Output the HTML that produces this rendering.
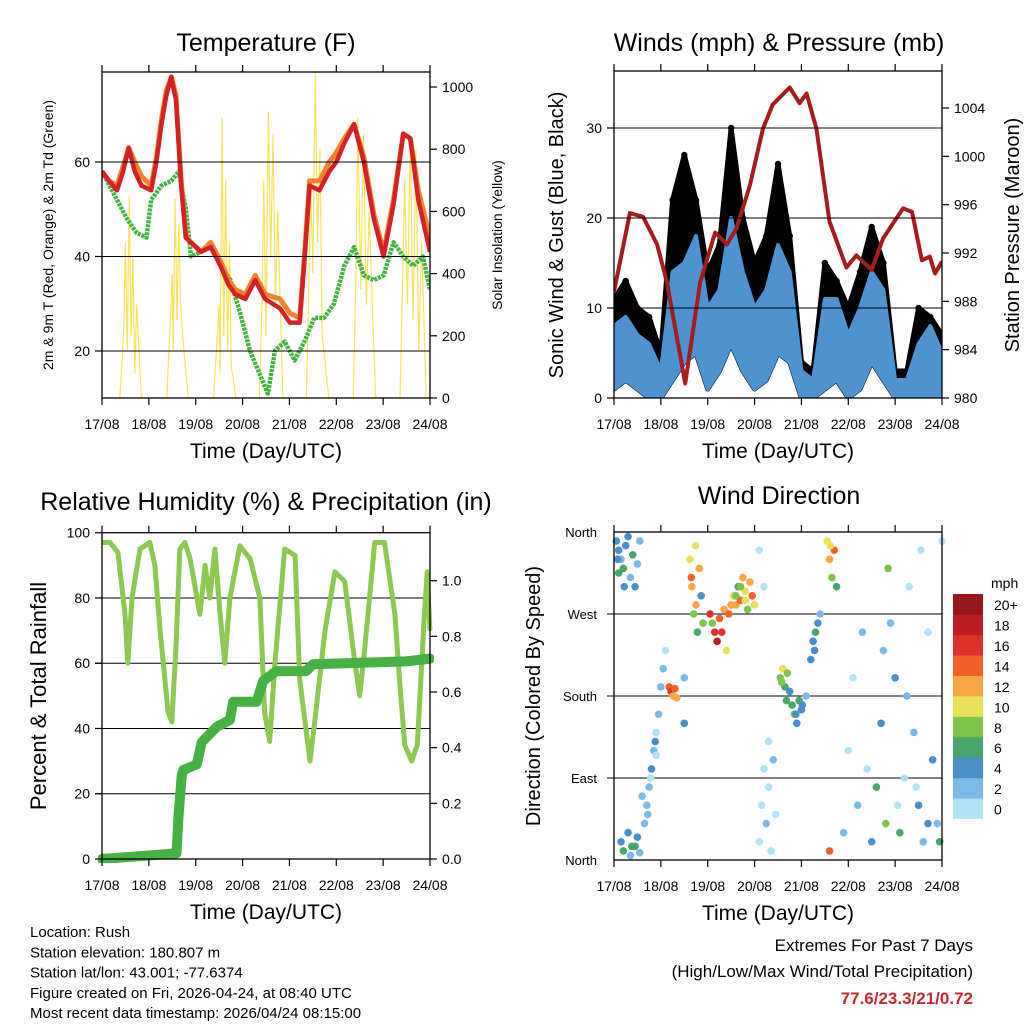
<!DOCTYPE html>
<html><head><meta charset="utf-8"><style>
html,body{margin:0;padding:0;background:#fff;}
svg{display:block;font-family:"Liberation Sans",sans-serif;}
</style></head><body>
<svg id="c" width="1024" height="1024" viewBox="0 0 1024 1024"></svg>
<script>
// ---------- DATA ----------
const dayLabels = ["17/08","18/08","19/08","20/08","21/08","22/08","23/08","24/08"];
// Temperature panel
const tempT = [0,0.15,0.32,0.45,0.57,0.7,0.84,1.05,1.16,1.27,1.37,1.48,1.58,1.69,1.79,2.11,2.32,2.53,2.7,2.85,3.06,3.27,3.48,3.8,4.01,4.22,4.32,4.43,4.64,4.85,5.0,5.17,5.38,5.59,5.8,6.01,6.22,6.43,6.58,6.75,7];
const tempRed = [58,56,54,58,63,58,55,54,60,68,74,78,73,55,44,41,42,38,34,32,31,35,31,29,26,26,39,55,54,58,60,64,68,60,48,40,51,66,65,52,41];
const tempOrange = [58,56,55,59,63,60,57,55,61,69,75,78,74,56,44,41,43,39,35,33,32,36,32,31,28,27,40,56,56,60,62,65,68,61,49,41,52,66,65,54,44];
const dewT = [0,0.32,0.53,0.74,0.95,1.05,1.27,1.48,1.64,1.79,1.9,2.11,2.32,2.53,2.74,2.95,3.16,3.37,3.54,3.69,3.9,4.11,4.32,4.53,4.74,4.95,5.17,5.38,5.59,5.8,6.01,6.22,6.43,6.64,6.85,7];
const dewG = [58,52,48,45,44,52,55,56,58,50,40,41,42,38,35,28,20,15,11,20,22,18,22,27,27,30,38,42,36,35,36,43,40,38,40,33];
const solarT = [0,0.38,0.44,0.47,0.5,0.54,0.58,0.62,0.66,0.7,0.74,0.84,1.38,1.46,1.5,1.52,1.56,1.6,1.64,1.68,1.72,1.84,2.38,2.46,2.5,2.52,2.56,2.6,2.64,2.68,2.72,2.76,2.86,3.36,3.42,3.45,3.5,3.55,3.6,3.65,3.7,3.75,3.86,4.36,4.42,4.45,4.5,4.55,4.6,4.65,4.7,4.84,5.36,5.42,5.46,5.52,5.58,5.64,5.7,5.84,6.36,6.42,6.46,6.52,6.58,6.64,6.7,6.76,6.82,6.92,7];
const solarV = [0,0,150,250,500,150,650,200,450,80,300,0,0,250,400,150,640,250,560,300,200,0,0,200,300,80,900,200,700,150,500,100,0,0,350,700,200,920,450,850,300,600,0,0,400,700,400,1050,500,800,200,0,0,400,900,350,850,300,600,0,0,400,700,300,840,250,800,150,500,0,0];
// Winds panel (6-hourly)
const windT6 = [0,0.25,0.5,0.75,1,1.25,1.5,1.75,2,2.25,2.5,2.75,3,3.25,3.5,3.75,4,4.25,4.5,4.75,5,5.25,5.5,5.75,6,6.25,6.5,6.75,7];
const sonicHigh = [8,9,7,6,3,14,15,18,10,12,20,14,10,12,17,14,3,2,11,11,7,10,14,12,2,2,6,8,5];
const sonicLow = [1,2,1,0,0,2,4,5,1,3,6,3,1,2,5,4,0,0,1,2,0,1,4,2,0,0,0,0,0];
const gust = [11,13,10,9,5,22,27,22,14,17,30,20,15,18,26,18,4,3,15,13,10,14,19,15,3,3,10,9,7];
const presT = [0,0.34,0.62,0.92,1.13,1.52,1.84,2.16,2.41,2.62,2.9,3.18,3.39,3.75,3.96,4.11,4.32,4.6,4.96,5.17,5.5,5.74,6.17,6.36,6.57,6.74,6.85,7];
const pres = [988.8,995.3,995,992.7,989.6,981.2,989.6,993.7,992.7,994.1,997.6,1002.3,1004.3,1005.7,1004.4,1005.2,1002.3,994.6,990.8,991.8,990.6,993.2,995.7,995.4,991.4,991.7,990.3,991.3];
// RH panel
const rhT = [0,0.17,0.34,0.49,0.55,0.64,0.81,1.02,1.13,1.24,1.41,1.49,1.58,1.66,1.77,1.88,2.09,2.2,2.3,2.41,2.52,2.62,2.73,2.94,3.16,3.37,3.47,3.58,3.69,3.9,4.12,4.22,4.44,4.54,4.76,4.97,5.18,5.4,5.5,5.61,5.82,6.03,6.25,6.35,6.46,6.61,6.73,6.88,6.94,7];
const rhV = [97,97,94,75,60,80,95,97,90,70,45,42,65,95,97,92,75,90,80,95,75,60,80,96,92,80,45,36,60,95,93,55,30,42,70,88,85,60,50,65,97,97,75,55,35,30,35,75,88,70];
const rainT = [0,1.59,1.63,1.7,1.74,2.02,2.13,2.45,2.73,2.8,3.3,3.44,3.72,4.36,4.5,6.49,7];
const rainV = [0,0.02,0.15,0.3,0.32,0.34,0.42,0.475,0.5,0.565,0.565,0.64,0.675,0.675,0.7,0.71,0.72];
// Wind direction panel
const dirT = [0.05,0.1,0.15,0.2,0.25,0.3,0.35,0.4,0.45,0.5,0.55,0.1,0.15,0.2,0.3,0.35,0.45,0.5,0.55,0.65,0.7,0.75,0.8,0.85,0.9,0.95,1.0,1.05,1.1,0.78,0.9,1.18,1.22,1.26,1.3,1.34,1.62,1.66,1.7,1.74,1.78,1.82,1.86,1.9,1.5,1.5,2.1,2.15,2.2,2.25,2.3,2.35,2.4,2.45,2.5,2.55,2.6,2.65,2.7,2.75,2.8,2.85,2.9,2.95,3.0,3.1,3.15,3.2,3.25,3.3,3.35,3.4,3.45,3.1,3.2,3.3,3.55,3.6,3.65,3.7,3.75,3.8,3.85,3.9,3.95,4.0,4.1,4.2,4.25,4.3,4.35,4.4,4.55,4.6,4.65,4.7,4.75,4.6,4.9,5.0,5.1,5.2,5.3,5.4,5.5,5.6,5.7,5.8,5.9,6.0,6.1,6.2,6.3,6.4,6.5,6.6,6.7,6.8,6.9,7.0,5.75,6.25,6.55,0.08,0.22,0.38,0.6,0.72,0.88,1.65,1.75,2.05,2.6,2.7,2.8,3.58,3.68,3.88,4.02,4.28,4.62,5.85,6.05,6.45,6.7,6.95];
const dirD = [350,340,330,320,345,355,310,335,300,325,350,315,20,10,30,5,15,25,8,40,60,80,100,120,140,160,190,210,230,90,115,190,185,180,188,178,330,300,270,345,250,320,290,260,200,150,260,250,240,265,250,275,230,270,280,290,280,300,285,310,295,275,305,290,280,20,60,100,40,80,10,110,50,340,300,130,200,210,190,205,185,170,160,150,175,165,180,220,240,250,260,270,350,330,310,340,300,10,30,120,200,60,250,100,20,80,150,40,260,200,30,90,300,140,60,20,250,110,40,350,230,180,340,330,300,15,70,50,130,310,280,270,290,300,285,195,175,160,170,230,345,320,60,80,40,20];
const dirS = [4,5,3,6,4,5,3,6,4,2,3,6,4,6,5,3,6,4,2,2,3,2,4,3,1,2,3,2,1,1,0,14,16,12,15,12,10,12,8,10,6,12,4,8,3,4,8,16,18,14,16,12,10,14,12,10,12,6,14,12,10,8,12,14,10,0,1,0,2,1,0,2,1,1,0,0,8,10,6,9,4,6,8,4,6,5,3,4,5,6,4,3,10,12,8,14,6,15,2,0,1,3,2,1,4,6,4,8,2,4,6,1,0,3,5,2,1,4,3,1,2,2,0,5,4,6,3,2,4,14,12,16,8,9,10,8,6,4,5,4,10,8,0,1,4,6];
const scaleLabels = ["0","2","4","6","8","10","12","14","16","18","20+"];
const scaleColors = ["#b3e2f7","#7db9e6","#4a8fc7","#48a56e","#7fc34b","#e8e05a","#f7a845","#f06128","#dc3229","#bc1c24","#96161b"];

// ---------- HELPERS ----------
const svg = document.getElementById('c');
const NS = 'http://www.w3.org/2000/svg';
function mk(tag, attrs, parent, txt){
  const e = document.createElementNS(NS, tag);
  for (const k in attrs) e.setAttribute(k, attrs[k]);
  if (txt !== undefined) e.textContent = txt;
  (parent || svg).appendChild(e);
  return e;
}
function lin(d0,d1,r0,r1){ return v => r0 + (v-d0)*(r1-r0)/(d1-d0); }
function pathOf(xs, ys, fx, fy){
  return xs.map((t,i)=>(i?'L':'M')+fx(t).toFixed(1)+','+fy(ys[i]).toFixed(1)).join('');
}
function colorFor(s){ let i = Math.floor(s/2); if(i>10)i=10; if(i<0)i=0; return scaleColors[i]; }

function frame(g, L, R, T, B, fx){
  const f = mk('rect',{x:L,y:T,width:R-L,height:B-T,fill:'none',stroke:'#000','stroke-width':1.3},g);
  
  
  for (let d=0; d<=7; d++){
    const x = fx(d);
    const tb = mk('line',{x1:x,y1:B,x2:x,y2:B+7,stroke:'#000','stroke-width':1.2},g);
    
    
    mk('line',{x1:x,y1:T,x2:x,y2:T-7,stroke:'#000','stroke-width':1.2},g);
    const lb = mk('text',{x:x,y:B+31,'font-size':14,'text-anchor':'middle'},g,dayLabels[d]);
    
    
  }
  const xt = mk('text',{x:(L+R)/2,y:B+60,'font-size':21,'text-anchor':'middle'},g,'Time (Day/UTC)');
  
  
}
function hgrid(g, L, R, ys){
  ys.forEach(y=>{ mk('line',{x1:L-7,y1:y,x2:R,y2:y,stroke:'#000','stroke-width':1},g); });
}
function yTicks(g, x, vals, fy, side, fmt, name){
  vals.forEach(v=>{
    const y = fy(v);
    const dx = side==='left' ? -7 : 7;
    mk('line',{x1:x,y1:y,x2:x+dx,y2:y,stroke:'#000','stroke-width':1.2},g);
    const t = mk('text',{x: side==='left'? x-12 : x+12, y:y+5,'font-size':14,'text-anchor': side==='left'?'end':'start'},g,fmt(v));
    
    
  });
}
function vTitle(g, x, y, size, txt, name){
  const t = mk('text',{x:x,y:y,'font-size':size,'text-anchor':'middle',transform:`rotate(-90 ${x} ${y})`},g,txt);
  
  
}
function title(g, x, y, txt, name){
  const t = mk('text',{x:x,y:y,'font-size':25,'text-anchor':'middle'},g,txt);
  
  
}

// ---------- PANEL 1: TEMPERATURE ----------
(function(){
  const g = mk('g',{});
  
  
  const L=102,R=430,T=72,B=398;
  const fx = lin(0,7,L,R), fy = lin(20,60,351,162), fs = lin(0,1000,398,87);
  title(g,266,51,'Temperature (F)','temperature-title');
  const clip = mk('clipPath',{id:'cp1'},g); mk('rect',{x:L,y:T,width:R-L,height:B-T},clip);
  const d = mk('g',{'clip-path':'url(#cp1)'},g);
  const sol = mk('path',{d:pathOf(solarT,solarV,fx,fs),fill:'none',stroke:'#f9e35a','stroke-width':1.2},d);
  
  
  hgrid(g,L,R,[fy(20),fy(40),fy(60)]);
  const dew = mk('path',{d:pathOf(dewT,dewG,fx,fy),fill:'none',stroke:'#45b342','stroke-width':4.5,'stroke-dasharray':'3 1','stroke-linejoin':'round'},d);
  
  
  const or = mk('path',{d:pathOf(tempT,tempOrange,fx,fy),fill:'none',stroke:'#f5822a','stroke-width':5,'stroke-linejoin':'round'},d);
  
  
  const rd = mk('path',{d:pathOf(tempT,tempRed,fx,fy),fill:'none',stroke:'#d42128','stroke-width':4.5,'stroke-linejoin':'round'},d);
  
  
  frame(g,L,R,T,B,fx);
  yTicks(g,L,[20,40,60],fy,'left',v=>v,'y-tick-label');
  yTicks(g,R,[0,200,400,600,800,1000],fs,'right',v=>v,'y2-tick-label');
  vTitle(g,53,235,14,'2m & 9m T (Red, Orange) & 2m Td (Green)','y-axis-title');
  vTitle(g,502,235,14,'Solar Insolation (Yellow)','y2-axis-title');
})();

// ---------- PANEL 2: WINDS ----------
(function(){
  const g = mk('g',{});
  
  
  const L=614,R=942,T=71,B=398;
  const fx = lin(0,7,L,R), fy = lin(0,30,398,128), fp = lin(980,1004,398,108);
  title(g,779,51,'Winds (mph) & Pressure (mb)','winds-title');
  const clip = mk('clipPath',{id:'cp2'},g); mk('rect',{x:L,y:T,width:R-L,height:B-T},clip);
  const d = mk('g',{'clip-path':'url(#cp2)'},g);
  hgrid(g,L,R,[fy(10),fy(20),fy(30)]);
  const gp = pathOf(windT6,gust,fx,fy) + windT6.slice().reverse().map((t,i)=>'L'+fx(t)+','+fy(sonicLow[sonicLow.length-1-i])).join('')+'Z';
  const gb = mk('path',{d:gp,fill:'#000',stroke:'#000','stroke-width':5,'stroke-linejoin':'round'},d);
  
  
  windT6.forEach((t,i)=>{
    const c = mk('circle',{cx:fx(t),cy:fy(gust[i]),r:3.2,fill:'#000'},d);
    
    
  });
  const bp = pathOf(windT6,sonicHigh,fx,fy) + windT6.slice().reverse().map((t,i)=>'L'+fx(t)+','+fy(sonicLow[sonicLow.length-1-i])).join('')+'Z';
  const bb = mk('path',{d:bp,fill:'#4e93cf',stroke:'#4e93cf','stroke-width':4,'stroke-linejoin':'round'},d);
  
  
  const pl = mk('path',{d:pathOf(presT,pres,fx,fp),fill:'none',stroke:'#a51c1e','stroke-width':4,'stroke-linejoin':'round'},d);
  
  
  frame(g,L,R,T,B,fx);
  yTicks(g,L,[0,10,20,30],fy,'left',v=>v,'y-tick-label');
  yTicks(g,R,[980,984,988,992,996,1000,1004],fp,'right',v=>v,'y2-tick-label');
  vTitle(g,563,235,20,'Sonic Wind & Gust (Blue, Black)','y-axis-title');
  vTitle(g,1019,235,20,'Station Pressure (Maroon)','y2-axis-title');
})();

// ---------- PANEL 3: RH ----------
(function(){
  const g = mk('g',{});
  
  
  const L=102,R=430,T=532.7,B=859;
  const fx = lin(0,7,L,R), fy = lin(0,100,B,T), fr = lin(0,1,859,580.7);
  title(g,266,510,'Relative Humidity (%) & Precipitation (in)','humidity-title');
  hgrid(g,L,R,[fy(20),fy(40),fy(60),fy(80)]);
  const clip = mk('clipPath',{id:'cp3'},g); mk('rect',{x:L-4,y:T-4,width:R-L+8,height:B-T+8},clip);
  const d = mk('g',{'clip-path':'url(#cp3)'},g);
  const rh = mk('path',{d:pathOf(rhT,rhV,fx,fy),fill:'none',stroke:'#8dc851','stroke-width':5,'stroke-linejoin':'round'},d);
  
  
  const rn = mk('path',{d:pathOf(rainT,rainV,fx,fr),fill:'none',stroke:'#45b342','stroke-width':10,'stroke-linejoin':'round','stroke-linecap':'round'},d);
  
  
  frame(g,L,R,T,B,fx);
  yTicks(g,L,[0,20,40,60,80,100],fy,'left',v=>v,'y-tick-label');
  yTicks(g,R,[0,0.2,0.4,0.6,0.8,1.0],fr,'right',v=>v.toFixed(1),'y2-tick-label');
  vTitle(g,46,696,22,'Percent & Total Rainfall','y-axis-title');
})();

// ---------- PANEL 4: WIND DIRECTION ----------
(function(){
  const g = mk('g',{});
  
  
  const L=614,R=942,T=532,B=860;
  const fx = lin(0,7,L,R), fy = lin(0,360,B,T);
  title(g,779,504,'Wind Direction','wind-direction-title');
  hgrid(g,L,R,[fy(90),fy(180),fy(270)]);
  const clip = mk('clipPath',{id:'cp4'},g); mk('rect',{x:L-4,y:T-4,width:R-L+8,height:B-T+8},clip);
  const d = mk('g',{'clip-path':'url(#cp4)'},g);
  dirT.forEach((t,i)=>{
    const c = mk('circle',{cx:fx(t),cy:fy(dirD[i]),r:3.8,fill:colorFor(dirS[i])},d);
    
    
  });
  frame(g,L,R,T,B,fx);
  const names=['North','East','South','West','North'];
  [0,90,180,270,360].forEach((v,i)=>{
    const t = mk('text',{x:L-17,y:fy(v)+5,'font-size':13,'text-anchor':'end'},g,names[i]);
    
    
  });
  vTitle(g,540,696,20,'Direction (Colored By Speed)','y-axis-title');
  const cb = mk('g',{},g);
  
  
  const bh = (818.7-594)/11;
  scaleColors.forEach((col,i)=>{
    const y = 818.7 - (i+1)*bh;
    const r = mk('rect',{x:953,y:y,width:30,height:bh+0.3,fill:col},cb);
    
    
    const t = mk('text',{x:994,y:y+bh/2+6,'font-size':14},cb,scaleLabels[i]);
    
    
  });
  const u = mk('text',{x:991,y:588,'font-size':14},cb,'mph');
  
  
})();

// ---------- FOOTER ----------
const info = ['Location: Rush','Station elevation: 180.807 m','Station lat/lon: 43.001; -77.6374','Figure created on Fri, 2026-04-24, at 08:40 UTC','Most recent data timestamp: 2026/04/24 08:15:00'];
info.forEach((s,i)=>{
  const t = mk('text',{x:30,y:937+i*20.3,'font-size':15},svg,s);
  
  
});
const e1 = mk('text',{x:973,y:951,'font-size':17,'text-anchor':'end'},svg,'Extremes For Past 7 Days');


const e2 = mk('text',{x:973,y:977,'font-size':17,'text-anchor':'end'},svg,'(High/Low/Max Wind/Total Precipitation)');


const e3 = mk('text',{x:973,y:1004,'font-size':17,'text-anchor':'end','font-weight':'bold',fill:'#c62a2f'},svg,'77.6/23.3/21/0.72');


</script>
</body></html>
